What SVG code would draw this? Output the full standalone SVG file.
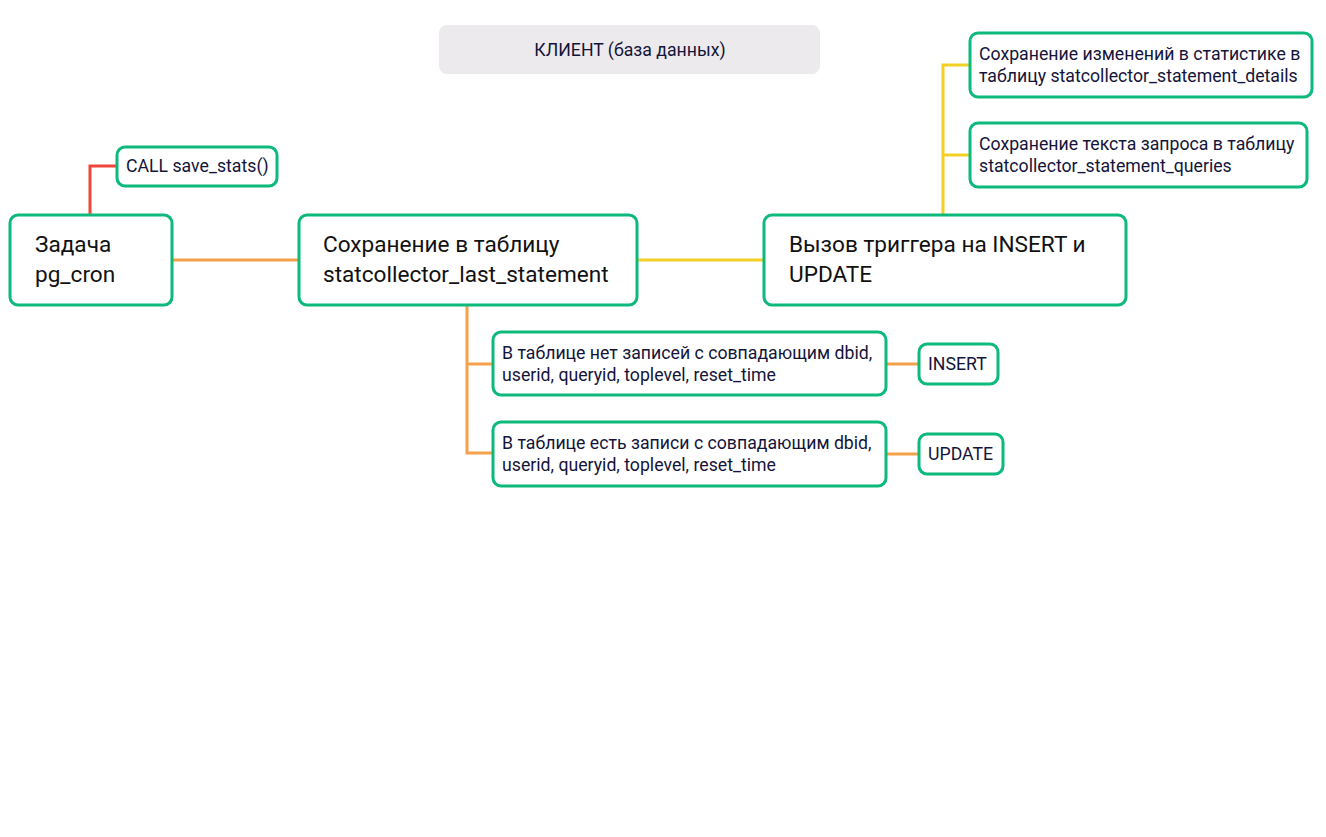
<svg xmlns="http://www.w3.org/2000/svg" width="1326" height="837" viewBox="0 0 1326 837">
<style>
.node{fill:#fff;stroke:#0DBA7C;stroke-width:3}
.big{font-family:Roboto,"Liberation Sans",sans-serif;font-size:22.6px;fill:#111}
.sm{font-family:Roboto,"Liberation Sans",sans-serif;font-size:17.7px;fill:#14143a}
.c{fill:none;stroke-width:3}
.red{stroke:#F0453A}.org{stroke:#F5A04B}.yel{stroke:#F2D024}
</style>
<rect width="1326" height="837" fill="#fff"/>
<g id="connectors">
<polyline class="c red" points="90,215 90,166 117,166"/>
<line class="c org" x1="172" y1="260" x2="299" y2="260"/>
<line class="c yel" x1="637" y1="260" x2="764" y2="260"/>
<polyline class="c yel" points="943,215 943,65 970,65"/>
<line class="c yel" x1="943" y1="155" x2="970" y2="155"/>
<polyline class="c org" points="467,305 467,453 493,453"/>
<line class="c org" x1="467" y1="364" x2="493" y2="364"/>
<line class="c org" x1="886" y1="364" x2="919" y2="364"/>
<line class="c org" x1="886" y1="454" x2="919" y2="454"/>
</g>
<g id="client">
<rect x="439" y="25" width="381" height="49" rx="8" fill="#ECEAED"/>
<text class="sm" x="630" y="56" text-anchor="middle">КЛИЕНТ (база данных)</text>
</g>
<g id="call">
<rect class="node" x="117" y="147" width="160" height="39" rx="8"/>
<text class="sm" x="126" y="172">CALL save_stats()</text>
</g>
<g id="task">
<rect class="node" x="10" y="215" width="162" height="90" rx="8"/>
<text class="big" x="35" y="252">Задача</text>
<text class="big" x="35" y="282">pg_cron</text>
</g>
<g id="save">
<rect class="node" x="299" y="215" width="338" height="90" rx="8"/>
<text class="big" x="323" y="252">Сохранение в таблицу</text>
<text class="big" x="323" y="282">statcollector_last_statement</text>
</g>
<g id="trigger">
<rect class="node" x="764" y="215" width="362" height="90" rx="8"/>
<text class="big" x="789" y="252">Вызов триггера на INSERT и</text>
<text class="big" x="789" y="282">UPDATE</text>
</g>
<g id="details">
<rect class="node" x="970" y="33" width="342" height="64" rx="8"/>
<text class="sm" x="979" y="60">Сохранение изменений в статистике в</text>
<text class="sm" x="979" y="82">таблицу statcollector_statement_details</text>
</g>
<g id="queries">
<rect class="node" x="970" y="123" width="337" height="64" rx="8"/>
<text class="sm" x="979" y="150">Сохранение текста запроса в таблицу</text>
<text class="sm" x="979" y="172">statcollector_statement_queries</text>
</g>
<g id="cond1">
<rect class="node" x="493" y="332" width="393" height="63" rx="8"/>
<text class="sm" x="502" y="359">В таблице нет записей с совпадающим dbid,</text>
<text class="sm" x="502" y="381">userid, queryid, toplevel, reset_time</text>
</g>
<g id="cond2">
<rect class="node" x="493" y="422" width="393" height="64" rx="8"/>
<text class="sm" x="502" y="449">В таблице есть записи с совпадающим dbid,</text>
<text class="sm" x="502" y="471">userid, queryid, toplevel, reset_time</text>
</g>
<g id="insert">
<rect class="node" x="919" y="344" width="79" height="40" rx="8"/>
<text class="sm" x="928" y="370">INSERT</text>
</g>
<g id="update">
<rect class="node" x="919" y="434" width="84" height="40" rx="8"/>
<text class="sm" x="928" y="460">UPDATE</text>
</g>
</svg>
